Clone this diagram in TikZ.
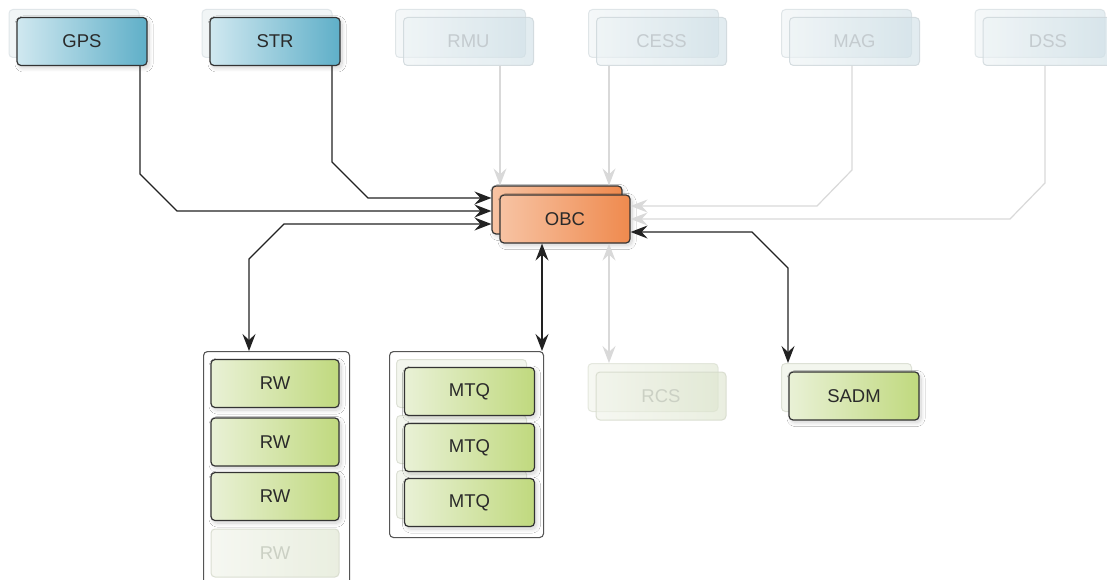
\documentclass[tikz,border=0pt]{standalone}
\usepackage{fontspec}
\setmainfont{Liberation Sans}
\usetikzlibrary{arrows.meta,shadows.blur}

\definecolor{edge}{HTML}{333333}
\definecolor{txt}{HTML}{2A2A2A}
\definecolor{bluL}{HTML}{D0E8F0}
\definecolor{bluR}{HTML}{5FAFC8}
\definecolor{oraL}{HTML}{F7C3A3}
\definecolor{oraR}{HTML}{EF8A4E}
\definecolor{grnL}{HTML}{E9F1D6}
\definecolor{grnR}{HTML}{C0D97E}
\definecolor{ghostfill}{HTML}{F1F5F6}
\definecolor{ghostedge}{HTML}{E0E6E9}
\definecolor{fbL}{HTML}{EDF3F5}
\definecolor{fbR}{HTML}{CEDFE6}
\definecolor{fbedge}{HTML}{CDD6DA}
\definecolor{fbtxt}{HTML}{C4CBCF}
\definecolor{fgL}{HTML}{F0F3E9}
\definecolor{fgR}{HTML}{DCE4CC}
\definecolor{fgedge}{HTML}{D3D8C9}
\definecolor{fgtxt}{HTML}{CBD0C4}
\definecolor{gghost}{HTML}{F3F6EE}
\definecolor{gghostedge}{HTML}{DDE1D6}
\definecolor{wire}{HTML}{222222}
\definecolor{faintwire}{HTML}{D9D9D9}
\definecolor{frame}{HTML}{555555}

\tikzset{
  box/.style={rectangle, rounded corners=4pt, minimum width=130pt,
    minimum height=48pt, inner sep=0pt, line width=1.2pt,
    font=\fontsize{18.5}{20}\selectfont, text=txt},
  shadowed/.style={blur shadow={shadow xshift=2pt, shadow yshift=-2.5pt,
    shadow blur radius=4pt, shadow blur steps=10, shadow opacity=18}},
  bluebox/.style={box, shadowed, draw=edge, left color=bluL, right color=bluR},
  orangebox/.style={box, shadowed, draw=edge, left color=oraL, right color=oraR},
  greenbox/.style={box, shadowed, draw=edge, left color=grnL, right color=grnR},
  ghostbox/.style={box, line width=1pt, draw=ghostedge, fill=ghostfill},
  greenghost/.style={box, line width=1pt, draw=gghostedge, fill=gghost},
  fadedback/.style={box, line width=1pt, draw=fbedge, left color=fbL,
    right color=fbR, opacity=.55},
  fadedfront/.style={box, line width=1pt, draw=fbedge, left color=fbL,
    right color=fbR, fill opacity=.6, draw opacity=.8, text=fbtxt, text opacity=1},
  fadedgreenback/.style={box, line width=1pt, draw=fgedge, left color=fgL,
    right color=fgR, opacity=.55},
  fadedgreen/.style={box, line width=1pt, draw=fgedge, left color=fgL,
    right color=fgR, fill opacity=.6, draw opacity=.8, text=fgtxt, text opacity=1},
  container/.style={rectangle, rounded corners=4pt, draw=frame, fill=white,
    line width=1.1pt, inner sep=0pt, anchor=north west},
  head/.tip={Stealth[length=17pt, width=13pt, inset=6pt]},
  link/.style={draw=wire, line width=1.3pt, -head},
  duplex/.style={draw=wire, line width=1.3pt, head-head},
  faintlink/.style={draw=faintwire, line width=1.2pt, -head},
  faintduplex/.style={draw=faintwire, line width=1.2pt, head-head},
}

\begin{document}
\begin{tikzpicture}[x=1pt, y=-1pt]
\fill[white] (0,0) rectangle (1107,580);
\useasboundingbox (0,0) rectangle (1107,580);

% sensors along the top
\node[ghostbox] (gpsb) at (74,33.5) {};
\node[bluebox] (gps) at (82,41.5) {GPS};
\node[ghostbox] (strb) at (267,33.5) {};
\node[bluebox] (str) at (275,41.5) {STR};

\node[fadedback] (rmub) at (460.5,33.5) {};
\node[fadedfront] (rmu) at (468.5,41.5) {RMU};
\node[fadedback] (cessb) at (653.5,33.5) {};
\node[fadedfront] (cess) at (661.5,41.5) {CESS};
\node[fadedback] (magb) at (846.5,33.5) {};
\node[fadedfront] (mag) at (854.5,41.5) {MAG};
\node[fadedback] (dssb) at (1040,33.5) {};
\node[fadedfront] (dss) at (1048,41.5) {DSS};

% on-board computer
\node[orangebox] (obcb) at (557,210) {};
\node[orangebox] (obc) at (565,219) {OBC};

% reaction wheels
\node[container, minimum width=146pt, minimum height=260pt] (rwbox) at (203,351) {};
\node[greenbox, minimum width=128pt] (rw1) at (275,383.5) {RW};
\node[greenbox, minimum width=128pt] (rw2) at (275,442) {RW};
\node[greenbox, minimum width=128pt] (rw3) at (275,496.5) {RW};
\node[fadedgreen, minimum width=128pt] (rw4) at (275,553) {RW};

% magnetorquers
\node[container, minimum width=154pt, minimum height=186pt] (mtqbox) at (389,351) {};
\node[greenghost] (mtq1b) at (461.5,383.5) {};
\node[greenghost] (mtq2b) at (461.5,439.5) {};
\node[greenghost] (mtq3b) at (461.5,494.5) {};
\node[greenbox] (mtq1) at (469.5,391.5) {MTQ};
\node[greenbox] (mtq2) at (469.5,447.5) {MTQ};
\node[greenbox] (mtq3) at (469.5,502.5) {MTQ};

% thrusters and solar array drive
\node[fadedgreenback] (rcsb) at (653,387.5) {};
\node[fadedgreen] (rcs) at (661,396) {RCS};
\node[greenghost] (sadmb) at (846.5,387.5) {};
\node[greenbox] (sadm) at (854,396) {SADM};

% active links
\draw[link] (gps.south -| 140,0) -- (140,174) -- (177,211) -- (obcb.west |- 0,211);
\draw[link] (str.south -| 332,0) -- (332,162) -- (368,198) -- (obcb.west |- 0,198);
\draw[duplex] (obcb.west |- 0,224) -- (284,224) -- (249,259) -- (rwbox.north -| 249,0);
\draw[duplex] (obc.south -| 542,0) -- (mtqbox.north -| 542,0);
\draw[duplex] (obc.east |- 0,232) -- (752,232) -- (788,268) -- (sadmb.north -| 788,0);

% inactive links
\draw[faintlink] (rmu.south -| 500,0) -- (obcb.north -| 500,0);
\draw[faintlink] (cess.south -| 609,0) -- (obcb.north -| 609,0);
\draw[faintlink] (mag.south -| 852,0) -- (852,170) -- (817,206) -- (obc.east |- 0,206);
\draw[faintlink] (dss.south -| 1045,0) -- (1045,183) -- (1010,219) -- (obc.east |- 0,219);
\draw[faintduplex] (obc.south -| 609,0) -- (rcsb.north -| 609,0);
\end{tikzpicture}
\end{document}
